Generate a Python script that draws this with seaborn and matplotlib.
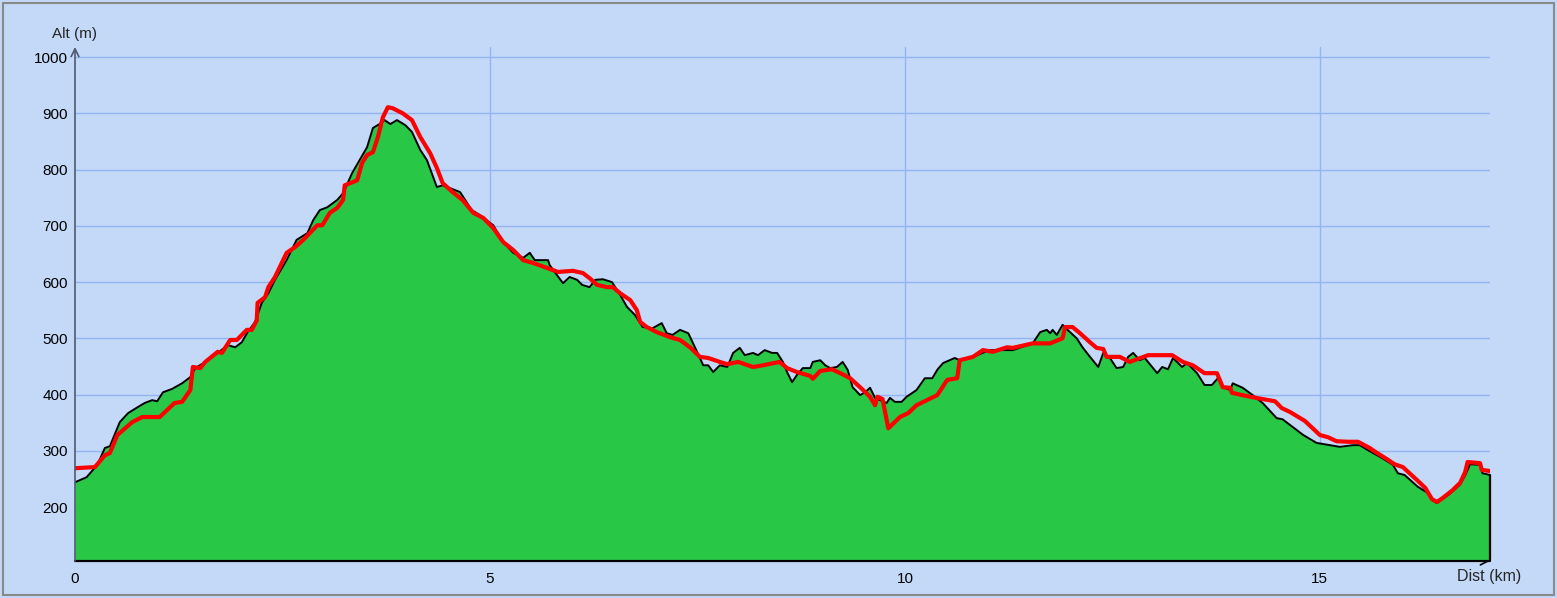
import numpy as np
import pandas as pd
import matplotlib
matplotlib.use("Agg")
import matplotlib.pyplot as plt
from matplotlib.patches import Rectangle
import seaborn as sns

# terrain profile (km, m)
terrain_km = [0.00, 0.14, 0.27, 0.36, 0.42, 0.54, 0.64, 0.76, 0.84, 0.93, 0.99, 1.06, 1.17, 1.29, 1.39,
              1.45, 1.57, 1.72, 1.84, 1.93, 2.01, 2.08, 2.17, 2.25, 2.33, 2.41, 2.55, 2.67, 2.80, 2.87,
              2.95, 3.04, 3.16, 3.23, 3.34, 3.43, 3.52, 3.59, 3.67, 3.73, 3.80, 3.88, 3.98, 4.06, 4.16,
              4.24, 4.36, 4.43, 4.52, 4.64, 4.78, 4.88, 5.04, 5.16, 5.28, 5.40, 5.48, 5.54, 5.63, 5.70,
              5.72, 5.81, 5.88, 5.96, 6.05, 6.11, 6.20, 6.27, 6.36, 6.47, 6.57, 6.65, 6.75, 6.84, 6.96,
              7.07, 7.13, 7.20, 7.29, 7.39, 7.47, 7.57, 7.63, 7.69, 7.77, 7.86, 7.93, 8.01, 8.07, 8.17,
              8.23, 8.31, 8.40, 8.46, 8.53, 8.58, 8.64, 8.70, 8.77, 8.86, 8.89, 8.98, 9.04, 9.10, 9.18,
              9.25, 9.31, 9.37, 9.46, 9.52, 9.58, 9.64, 9.70, 9.78, 9.82, 9.88, 9.96, 10.02, 10.14, 10.24,
              10.33, 10.39, 10.46, 10.60, 10.66, 10.87, 11.02, 11.30, 11.54, 11.63, 11.71, 11.75, 11.78,
              11.83, 11.90, 11.96, 12.07, 12.14, 12.23, 12.33, 12.39, 12.47, 12.55, 12.63, 12.69, 12.75,
              12.83, 12.89, 13.04, 13.10, 13.17, 13.23, 13.34, 13.40, 13.52, 13.61, 13.70, 13.77, 13.83,
              13.92, 13.95, 14.07, 14.19, 14.31, 14.48, 14.55, 14.64, 14.80, 14.96, 15.12, 15.24, 15.40,
              15.48, 15.58, 15.75, 15.88, 15.94, 16.02, 16.18, 16.30, 16.36, 16.41, 16.57, 16.69, 16.75,
              16.81, 16.93, 16.96, 17.05]
terrain_alt = [244, 253, 275, 305, 308, 351, 367, 378, 385, 390, 388, 404, 410, 420, 431,
               447, 458, 474, 488, 484, 493, 511, 529, 563, 580, 604, 639, 675, 687, 710,
               728, 733, 746, 758, 794, 817, 840, 874, 881, 888, 881, 888, 879, 867, 835,
               817, 769, 772, 767, 760, 728, 719, 701, 671, 652, 643, 652, 639, 639, 639,
               630, 612, 598, 609, 604, 595, 591, 604, 605, 600, 577, 556, 541, 520, 518,
               527, 509, 506, 515, 509, 484, 452, 452, 440, 452, 449, 474, 483, 470, 474,
               470, 479, 474, 474, 458, 440, 422, 435, 447, 447, 458, 461, 452, 447, 449,
               458, 444, 413, 399, 404, 412, 394, 390, 385, 394, 387, 387, 396, 408, 429,
               429, 444, 456, 465, 461, 470, 479, 479, 491, 511, 515, 509, 515,
               506, 524, 515, 500, 484, 467, 449, 474, 465, 447, 449, 467, 474,
               461, 465, 438, 449, 445, 465, 449, 456, 438, 417, 417, 429, 413,
               408, 420, 412, 399, 385, 358, 356, 346, 328, 314, 310, 307, 310,
               310, 301, 287, 275, 260, 257, 236, 225, 212, 207, 224, 240, 256,
               276, 275, 260, 257]

# recorded track (km, m)
track_km = [0.00, 0.24, 0.36, 0.42, 0.51, 0.69, 0.81, 1.02, 1.20, 1.29, 1.39, 1.42, 1.51, 1.57, 1.72,
            1.77, 1.87, 1.95, 2.07, 2.13, 2.19, 2.20, 2.29, 2.33, 2.41, 2.55, 2.65, 2.75, 2.92, 2.98,
            3.07, 3.16, 3.23, 3.25, 3.40, 3.46, 3.52, 3.59, 3.65, 3.71, 3.77, 3.83, 3.95, 4.06, 4.16,
            4.28, 4.36, 4.43, 4.55, 4.67, 4.80, 4.92, 5.04, 5.16, 5.28, 5.40, 5.52, 5.69, 5.82, 6.00,
            6.12, 6.20, 6.29, 6.41, 6.48, 6.57, 6.69, 6.77, 6.81, 6.89, 7.01, 7.17, 7.29, 7.41, 7.53,
            7.63, 7.77, 7.86, 7.99, 8.17, 8.29, 8.49, 8.58, 8.70, 8.86, 8.89, 8.98, 9.12, 9.25, 9.34,
            9.46, 9.58, 9.64, 9.67, 9.73, 9.80, 9.94, 10.04, 10.14, 10.39, 10.51, 10.63, 10.66, 10.82,
            10.94, 11.06, 11.23, 11.30, 11.54, 11.75, 11.90, 11.93, 12.02, 12.11, 12.23, 12.31, 12.39,
            12.43, 12.59, 12.71, 12.93, 13.22, 13.35, 13.47, 13.61, 13.76, 13.83, 13.92, 13.94, 14.16,
            14.31, 14.46, 14.54, 14.64, 14.82, 15.00, 15.10, 15.20, 15.34, 15.46, 15.60, 15.69, 15.81,
            15.90, 16.00, 16.17, 16.27, 16.35, 16.41, 16.48, 16.60, 16.69, 16.75, 16.78, 16.93, 16.95,
            17.05]
track_alt = [269, 271, 292, 296, 328, 351, 360, 360, 385, 387, 408, 449, 447, 458, 476,
             474, 497, 497, 515, 515, 532, 563, 573, 591, 609, 652, 662, 675, 701, 701,
             723, 732, 746, 772, 781, 812, 826, 831, 858, 893, 911, 909, 900, 888, 858,
             829, 803, 776, 760, 746, 723, 714, 696, 671, 657, 639, 634, 625, 618, 620,
             616, 607, 595, 591, 591, 580, 568, 550, 529, 520, 511, 502, 497, 484, 467,
             465, 458, 454, 458, 449, 452, 458, 447, 440, 433, 428, 442, 445, 436, 429,
             413, 396, 381, 396, 392, 340, 360, 367, 381, 399, 426, 429, 461, 467,
             479, 476, 484, 483, 491, 491, 500, 520, 520, 509, 493, 483, 481,
             467, 467, 458, 470, 470, 458, 452, 438, 438, 413, 412, 403, 396,
             392, 388, 376, 369, 353, 328, 324, 317, 316, 316, 305, 296, 285,
             276, 271, 248, 234, 214, 209, 216, 230, 243, 262, 280, 278, 266,
             264]

y_ticks = [200, 300, 400, 500, 600, 700, 800, 900, 1000]
x_ticks = [0, 5, 10, 15]

BG = "#C3D9F7"
GRID = "#93B3F2"
GREEN = "#28C846"
Y_MIN, Y_MAX = 104, 1018
X_MAX = 17.05

sns.set_style("white")
plt.rcParams["font.family"] = ["Liberation Sans", "DejaVu Sans"]

terrain = pd.DataFrame({"km": terrain_km, "alt": terrain_alt})
track = pd.DataFrame({"km": track_km, "alt": track_alt})

fig = plt.figure(figsize=(15.57, 5.98), dpi=100)
fig.patch.set_facecolor(BG)
fig.patches.append(Rectangle((3 / 1557, 3 / 598), 1 - 6 / 1557, 1 - 6 / 598, transform=fig.transFigure,
                             fill=False, edgecolor="#8a8a8a", linewidth=1.5))
ax = fig.add_axes([75 / 1557, 1 - 561 / 598, (1490 - 75) / 1557, (561 - 47) / 598])
ax.set_facecolor(BG)

# grid
for yv in y_ticks:
    ax.axhline(yv, color=GRID, linewidth=1.0, zorder=1)
for xv in x_ticks[1:]:
    ax.axvline(xv, color=GRID, linewidth=1.0, zorder=1)

# x axis arrow (upper half hidden under the fill)
ax.annotate("", xy=(X_MAX, Y_MIN), xytext=(0, Y_MIN), xycoords="data",
            arrowprops=dict(arrowstyle="->", color="black", lw=1.2, mutation_scale=14,
                            shrinkA=0, shrinkB=0), zorder=2, annotation_clip=False)

ax.fill_between(terrain["km"], terrain["alt"], Y_MIN, color=GREEN, linewidth=0, zorder=3)
sns.lineplot(data=terrain, x="km", y="alt", ax=ax, sort=False, estimator=None,
             color="black", linewidth=1.4, zorder=4)
ax.plot([X_MAX, X_MAX, 0], [terrain_alt[-1], Y_MIN, Y_MIN], color="black", linewidth=1.6, zorder=4,
        clip_on=False)
sns.lineplot(data=track, x="km", y="alt", ax=ax, sort=False, estimator=None,
             color="#FF0000", linewidth=3.0, zorder=5)

# y axis arrow
ax.annotate("", xy=(0, Y_MAX), xytext=(0, Y_MIN), xycoords="data",
            arrowprops=dict(arrowstyle="->", color="#4f5a72", lw=1.2, mutation_scale=14,
                            shrinkA=0, shrinkB=0), zorder=6, annotation_clip=False)

ax.set_xlim(0, X_MAX)
ax.set_ylim(Y_MIN, Y_MAX)
ax.set_xticks(x_ticks)
ax.set_xticklabels([str(v) for v in x_ticks])
ax.set_yticks(y_ticks)
ax.set_yticklabels([str(v) for v in y_ticks])
ax.tick_params(axis="both", length=0, labelsize=11, colors="black")
ax.tick_params(axis="y", pad=5)
ax.tick_params(axis="x", pad=8)
ax.set_xlabel("")
ax.set_ylabel("")
for s in ax.spines.values():
    s.set_visible(False)

fig.text(75 / 1557, 1 - 34 / 598, "Alt (m)", ha="center", va="center", fontsize=11)
fig.text(1489 / 1557, 1 - 577 / 598, "Dist (km)", ha="center", va="center", fontsize=11.5)

fig.savefig("out.png", dpi=100, facecolor=BG)
